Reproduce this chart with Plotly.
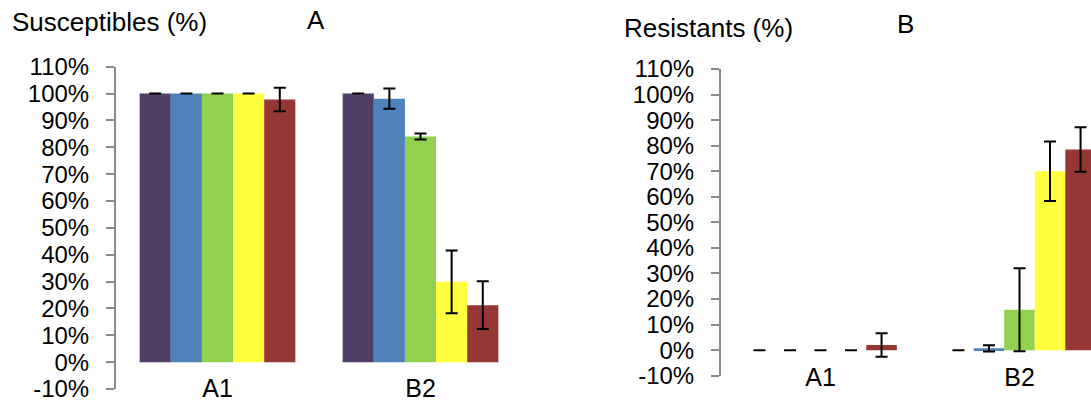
import plotly.graph_objects as go

# Groups on the x axis and the five treatment series
groups = ["A1", "B2"]
series_names = ["S1", "S2", "S3", "S4", "S5"]
series_colors = ["#513E66", "#4F81BD", "#92D050", "#FFFF40", "#953735"]

# Percentage ticks shared by both panels
tick_values = [-10, 0, 10, 20, 30, 40, 50, 60, 70, 80, 90, 100, 110]
tick_labels = ["-10%", "0%", "10%", "20%", "30%", "40%", "50%", "60%",
               "70%", "80%", "90%", "100%", "110%"]

# Panel A: susceptibles (%), mean and error per series
susc_values = [
    [100.0, 100.0],
    [100.0, 98.1],
    [100.0, 84.0],
    [100.0, 29.9],
    [97.8, 21.2],
]
susc_errors = [
    [0.0, 0.0],
    [0.0, 3.8],
    [0.0, 1.1],
    [0.0, 11.7],
    [4.4, 8.9],
]

# Panel B: resistants (%), mean and error per series
res_values = [
    [0.0, 0.0],
    [0.0, 0.7],
    [0.0, 15.8],
    [0.0, 70.0],
    [2.0, 78.5],
]
res_errors = [
    [0.0, 0.0],
    [0.0, 1.2],
    [0.0, 16.2],
    [0.0, 11.6],
    [4.6, 8.7],
]

FONT = "Liberation Sans, Arial, sans-serif"
W, H = 1091, 405

fig = go.Figure()

for i in range(len(series_names)):
    fig.add_trace(go.Bar(
        x=groups, y=susc_values[i], name=series_names[i],
        marker=dict(color=series_colors[i], line=dict(width=0)),
        error_y=dict(type="data", array=susc_errors[i], color="black",
                     thickness=2, width=6),
        xaxis="x", yaxis="y", showlegend=False,
    ))
    fig.add_trace(go.Bar(
        x=groups, y=res_values[i], name=series_names[i],
        marker=dict(color=series_colors[i], line=dict(width=0)),
        error_y=dict(type="data", array=res_errors[i], color="black",
                     thickness=2, width=6),
        xaxis="x2", yaxis="y2", showlegend=False,
    ))

yaxis_style = dict(
    range=[-10, 110], tickmode="array", tickvals=tick_values, ticktext=tick_labels,
    showgrid=False, zeroline=False, automargin=False,
    showline=True, linecolor="#8a8a8a", linewidth=2,
    ticks="outside", ticklen=8, tickwidth=2, tickcolor="#8a8a8a",
    ticklabelstandoff=12,
    tickfont=dict(family=FONT, size=24, color="black"),
)
xaxis_style = dict(
    showgrid=False, zeroline=False, showline=False, ticks="", automargin=False,
    tickfont=dict(family=FONT, size=25, color="black"),
)

fig.update_layout(
    width=W, height=H,
    margin=dict(l=0, r=0, t=0, b=0, autoexpand=False),
    paper_bgcolor="white", plot_bgcolor="white",
    barmode="group", bargap=0.233, bargroupgap=0,
    xaxis=dict(domain=[116 / W, 522 / W], range=[-0.5, 1.5],
               anchor="free", position=(H - 371) / H, **xaxis_style),
    yaxis=dict(domain=[(H - 389) / H, (H - 66.7) / H], anchor="x", **yaxis_style),
    xaxis2=dict(domain=[721 / W, 1.0], range=[-0.5, 1.5 - 28 / 199],
                anchor="free", position=(H - 360) / H, **xaxis_style),
    yaxis2=dict(domain=[(H - 375.7) / H, (H - 69) / H], anchor="x2", **yaxis_style),
)

title_font = dict(family=FONT, size=26, color="black")
fig.add_annotation(text="Susceptibles (%)", x=10 / W, y=1 - 22 / H,
                   xref="paper", yref="paper", xanchor="left", yanchor="middle",
                   showarrow=False, font=title_font)
fig.add_annotation(text="A", x=316 / W, y=1 - 20 / H,
                   xref="paper", yref="paper", xanchor="center", yanchor="middle",
                   showarrow=False, font=title_font)
fig.add_annotation(text="Resistants (%)", x=622 / W, y=1 - 28 / H,
                   xref="paper", yref="paper", xanchor="left", yanchor="middle",
                   showarrow=False, font=title_font)
fig.add_annotation(text="B", x=905 / W, y=1 - 24 / H,
                   xref="paper", yref="paper", xanchor="center", yanchor="middle",
                   showarrow=False, font=title_font)

fig.write_html("out.html")
